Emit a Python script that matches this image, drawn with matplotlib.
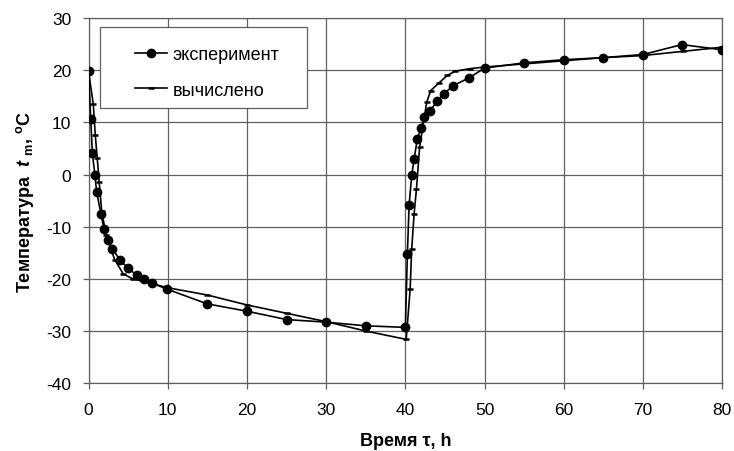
import matplotlib.pyplot as plt
import numpy as np
from matplotlib.patches import Rectangle

plt.rcParams['font.family'] = ['Liberation Sans', 'DejaVu Sans']
plt.rcParams['axes.unicode_minus'] = False
plt.rcParams['mathtext.fontset'] = 'custom'
plt.rcParams['mathtext.rm'] = 'Liberation Sans:bold'
plt.rcParams['mathtext.it'] = 'Liberation Sans:italic:bold'

# experiment (time, h / temperature, C)
exp_t = [0, 0.28, 0.48, 0.8, 1.03, 1.58, 1.96, 2.46, 3.0, 3.98, 5.0, 6.1, 7.0, 8.0, 9.95,
         15, 20, 25, 30, 35, 40,
         40.25, 40.47, 40.8, 41.1, 41.5, 42.0, 42.4, 43.1, 44.0, 44.9, 46.0, 48.0, 50.0,
         55, 60, 65, 70, 74.9, 80]
exp_T = [19.75, 10.7, 4.1, 0.0, -3.4, -7.6, -10.5, -12.6, -14.2, -16.4, -18.0, -19.3, -20.1, -20.8, -22.0,
         -24.8, -26.2, -27.8, -28.3, -29.0, -29.3,
         -15.2, -5.9, -0.1, 2.9, 6.8, 9.0, 11.0, 12.1, 14.1, 15.5, 17.0, 18.5, 20.4,
         21.4, 22.0, 22.4, 23.0, 24.9, 23.9]

# calculated
calc_t = [0, 0.6, 0.85, 1.1, 1.35, 1.65, 2.2, 3.3, 4.4, 5.6, 10,
          15, 20, 25, 30, 35, 40.1,
          40.6, 40.8, 41.1, 41.4, 41.8, 42.7, 43.2, 44.2, 45.3, 46.3, 48.2, 50,
          55, 60, 65, 70, 75, 80]
calc_T = [19.8, 13.5, 7.6, 3.1, -1.5, -6.9, -11.5, -16.3, -19.1, -20.0, -21.7,
          -23.1, -25.0, -26.6, -28.2, -30.0, -31.6,
          -22.0, -14.2, -7.6, -2.7, 5.3, 13.9, 16.1, 17.5, 19.0, 19.8, 20.3, 20.6,
          21.2, 21.8, 22.4, 22.8, 23.6, 24.4]

fig = plt.figure(figsize=(7.34, 4.52), dpi=100)
ax = fig.add_axes([0.1206, 0.150, 0.8634, 0.808])

ax.plot(exp_t, exp_T, color='black', lw=1.2, marker='o', markersize=6, label='эксперимент', zorder=4)
ax.plot(calc_t, calc_T, color='black', lw=1.2, marker='_', markersize=5, mew=1.8, label='вычислено', zorder=4)

ax.set_xlim(0, 80)
ax.set_ylim(-40, 30)
ax.set_xticks(np.arange(0, 81, 10))
ax.set_yticks(np.arange(-40, 31, 10))
ax.grid(True, color='#606060', lw=0.9)
ax.set_axisbelow(True)
for s in ax.spines.values():
    s.set_color('#606060')
    s.set_linewidth(0.9)
ax.tick_params(labelsize=12.5, length=4.5, color='#606060', width=0.9)
ax.tick_params(axis='x', pad=9)
ax.tick_params(axis='y', pad=8)

ax.set_xlabel('Время τ, h', fontsize=13, fontweight='bold', labelpad=11)
ax.set_ylabel(r'Температура  $t\ _{\rm m}$, $^{\rm o}$C', fontsize=13, fontweight='bold', labelpad=7)

# legend frame drawn separately so the padding can differ horizontally / vertically
box = Rectangle((0.018, 0.7534), 0.3266, 0.2219, transform=ax.transAxes,
                facecolor='white', edgecolor='#606060', lw=0.9, zorder=3)
ax.add_patch(box)
leg = ax.legend(loc='center left', bbox_to_anchor=(0.0733, 0.8507), borderaxespad=0, borderpad=0,
                fontsize=13, frameon=False, handlelength=1.8, labelspacing=1.0, handletextpad=0.3)
leg.set_zorder(5)

plt.savefig('out.png', dpi=100)
